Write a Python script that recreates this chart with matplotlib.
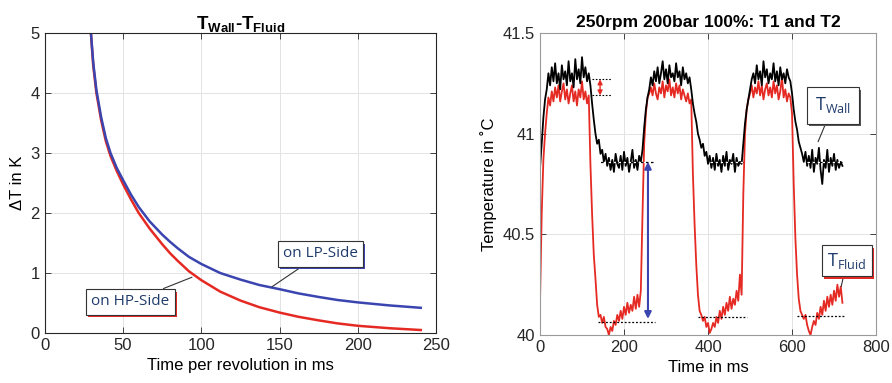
import numpy as np
import matplotlib
matplotlib.use("Agg")
import matplotlib.pyplot as plt
import matplotlib.patheffects as pe

plt.rcParams['font.family'] = ['Liberation Sans', 'DejaVu Sans']
plt.rcParams['mathtext.default'] = 'regular'

# --- left panel: Delta T vs time per revolution ---
t_rev = [29.5, 31, 33, 36, 39, 42, 46, 50, 55, 60, 67, 75, 80, 85, 92, 100,
         112, 125, 137, 150, 162, 175, 187, 200, 220, 240]
dT_lp = [5.0, 4.5, 4.05, 3.6, 3.25, 3.0, 2.75, 2.55, 2.31, 2.1, 1.86, 1.64,
         1.52, 1.41, 1.27, 1.15, 1.0, 0.89, 0.8, 0.73, 0.66, 0.6, 0.55,
         0.51, 0.46, 0.42]
dT_hp = [5.0, 4.45, 4.0, 3.55, 3.2, 2.95, 2.7, 2.48, 2.23, 2.0, 1.74, 1.48,
         1.33, 1.2, 1.03, 0.88, 0.69, 0.54, 0.43, 0.34, 0.27, 0.21, 0.16,
         0.12, 0.08, 0.05]

# --- right panel: measured temperatures, sampled every 4 ms ---
t_ms = np.arange(0, 724, 4)
T_fluid = [
    40.17, 40.6, 40.87, 41.0, 41.1, 41.18, 41.14, 41.21, 41.16, 41.23,
    41.18, 41.24, 41.16, 41.21, 41.25, 41.17, 41.22, 41.15, 41.2, 41.24,
    41.16, 41.21, 41.14, 41.22, 41.18, 41.26, 41.17, 41.21, 41.15, 41.19,
    40.85, 40.6, 40.4, 40.28, 40.15, 40.09, 40.1, 40.06, 40.09, 40.04,
    40.03, 40.0, 40.04, 40.02, 40.07, 40.05, 40.1, 40.07, 40.12, 40.08,
    40.14, 40.1, 40.16, 40.11, 40.15, 40.12, 40.19, 40.13, 40.2, 40.14,
    40.22, 40.6, 40.95, 41.1, 41.18, 41.2, 41.23, 41.19, 41.25, 41.2,
    41.17, 41.23, 41.2, 41.26, 41.18, 41.24, 41.21, 41.27, 41.19, 41.23,
    41.18, 41.25, 41.2, 41.24, 41.17, 41.22, 41.19, 41.16, 41.2, 41.15,
    41.17, 40.8, 40.55, 40.35, 40.2, 40.12, 40.1, 40.07, 40.09, 40.04,
    40.06, 40.01, 40.03, 40.06, 40.04, 40.09, 40.06, 40.12, 40.08, 40.14,
    40.1, 40.16, 40.12, 40.19, 40.13, 40.18, 40.15, 40.22, 40.17, 40.3,
    40.2, 40.7, 41.0, 41.12, 41.17, 41.2, 41.24, 41.18, 41.23, 41.2,
    41.26, 41.19, 41.24, 41.17, 41.22, 41.25, 41.19, 41.23, 41.18, 41.26,
    41.2, 41.24, 41.17, 41.21, 41.28, 41.18, 41.22, 41.16, 41.2, 41.18,
    41.1, 40.75, 40.48, 40.3, 40.18, 40.12, 40.1, 40.08, 40.1, 40.05,
    40.02, 40.0, 40.04, 40.07, 40.05, 40.11, 40.08, 40.14, 40.1, 40.17,
    40.12, 40.19, 40.14, 40.2, 40.15, 40.22, 40.17, 40.25, 40.19, 40.24,
    40.16]
T_wall = [
    40.83, 40.95, 41.08, 41.17, 41.22, 41.3, 41.24, 41.33, 41.26, 41.35,
    41.25, 41.3, 41.22, 41.34, 41.27, 41.31, 41.24, 41.36, 41.26, 41.3,
    41.23, 41.37, 41.27, 41.32, 41.25, 41.38, 41.28, 41.33, 41.26, 41.3,
    41.24, 41.15, 41.07, 41.0, 40.95, 40.97, 40.9, 40.92, 40.86, 40.9,
    40.84, 40.88, 40.82, 40.87, 40.81, 40.9, 40.85, 40.83, 40.89, 40.82,
    40.91, 40.84, 40.88, 40.81, 40.86, 40.92, 40.83, 40.87, 40.82, 40.89,
    40.86, 40.92, 41.03, 41.12, 41.18, 41.22, 41.28, 41.24, 41.31, 41.26,
    41.33, 41.25, 41.3, 41.36, 41.27, 41.32, 41.25, 41.34, 41.28, 41.3,
    41.26, 41.35, 41.28, 41.31, 41.24, 41.33, 41.27, 41.3, 41.25, 41.28,
    41.22, 41.15, 41.1, 41.06, 41.0, 40.97, 40.93, 40.95, 40.89, 40.91,
    40.85, 40.89, 40.83, 40.88, 40.82, 40.9, 40.84, 40.87, 40.81, 40.89,
    40.84, 40.91, 40.82, 40.87, 40.85, 40.9, 40.81, 40.88, 40.84, 40.86,
    40.85, 40.95, 41.05, 41.12, 41.17, 41.22, 41.27, 41.3, 41.25, 41.34,
    41.27, 41.31, 41.24, 41.36, 41.28, 41.32, 41.25, 41.3, 41.27, 41.35,
    41.26, 41.31, 41.24, 41.33, 41.27, 41.3, 41.25, 41.32, 41.28, 41.26,
    41.2, 41.12, 41.06, 41.02, 40.96, 40.93, 40.9, 40.86, 40.91, 40.84,
    40.89, 40.83, 40.92, 40.81, 40.88, 40.85, 40.93, 40.82, 40.75, 40.87,
    40.83, 40.92, 40.81, 40.88, 40.84, 40.9, 40.82, 40.87, 40.83, 40.86,
    40.84]

# reference levels (dotted lines) and markers
wall_low = 40.86
fluid_low = [40.065, 40.09, 40.095]
low_spans = [(138, 274), (376, 492), (612, 726)]
wall_spans = [(138, 274), (405, 483), (636, 719)]
peak_levels = (41.19, 41.27)
peak_span = (124, 171)

RED = '#e52a23'
BLUE = '#3b45b0'
NAVY = '#1f3b6b'
EDGE = '#333333'

fig = plt.figure(figsize=(8.92, 3.83), dpi=100)
ax1 = fig.add_axes([0.0501, 0.1305, 0.4392, 0.7833])
ax2 = fig.add_axes([0.6054, 0.1253, 0.3767, 0.7885])


def style(ax, spine_col):
    ax.tick_params(direction='in', top=True, right=True, labelsize=12,
                   length=4, width=0.6, colors='#262626')
    for s in ax.spines.values():
        s.set_color(spine_col)
        s.set_linewidth(0.8)
    ax.grid(True, color='#e3e3e3', lw=0.7)
    ax.set_axisbelow(True)


def label_box(ax, text, xy, xytext, shadow, fs, pad):
    ann = ax.annotate(text, xy=xy, xytext=xytext, ha='center', va='center',
                      fontsize=fs, family='Open Sans', color=NAVY, zorder=8,
                      bbox=dict(boxstyle=f'square,pad={pad}', fc='white', ec=EDGE, lw=0.8),
                      arrowprops=dict(arrowstyle='-', color=EDGE, lw=0.8,
                                      shrinkA=0, shrinkB=0))
    ann.get_bbox_patch().set_path_effects([
        pe.SimplePatchShadow(offset=(1.5, -2), shadow_rgbFace=shadow, alpha=1.0),
        pe.Normal()])
    return ann


# left panel
style(ax1, '#262626')
ax1.plot(t_rev, dT_hp, color=RED, lw=1.8)
ax1.plot(t_rev, dT_lp, color=BLUE, lw=1.8)
ax1.set_xlim(0, 250)
ax1.set_ylim(0, 5)
ax1.set_xticks(range(0, 251, 50))
ax1.set_yticks(range(0, 6))
ax1.set_xlabel('Time per revolution in ms', fontsize=12)
ax1.set_ylabel('ΔT in K', fontsize=12)
ax1.set_title('T$_{Wall}$-T$_{Fluid}$', fontsize=13.5, fontweight='bold', pad=3)
label_box(ax1, 'on LP-Side', (145, 0.77), (176, 1.32), BLUE, 11, 0.35)
label_box(ax1, 'on HP-Side', (94, 0.93), (54.5, 0.52), RED, 11, 0.35)

# right panel
style(ax2, '#9a9a9a')
ax2.plot(t_ms, T_fluid, color=RED, lw=1.3)
ax2.plot(t_ms, T_wall, color='black', lw=1.3)
for (a, b) in wall_spans:
    ax2.plot([a, b], [wall_low, wall_low], color='white', lw=0.9, ls=(0, (2, 2)), zorder=4)
    ax2.plot([a, b], [wall_low, wall_low], color='black', lw=0.9, ls=(2, (2, 2)), zorder=4)
for (a, b), lev in zip(low_spans, fluid_low):
    ax2.plot([a, b], [lev, lev], color='black', lw=0.9, ls=(0, (1.5, 1.5)), zorder=4)
for lev in peak_levels:
    ax2.plot(peak_span, [lev, lev], color='black', lw=0.8, ls=(0, (1.5, 1.5)), zorder=4)
ax2.annotate('', xy=(143, peak_levels[0]), xytext=(143, peak_levels[1]),
             arrowprops=dict(arrowstyle='<|-|>', color=RED, lw=1.0,
                             mutation_scale=7, shrinkA=0, shrinkB=0), zorder=5)
ax2.annotate('', xy=(257, 40.08), xytext=(257, wall_low),
             arrowprops=dict(arrowstyle='<|-|>', color=BLUE, lw=1.5,
                             mutation_scale=10, shrinkA=0, shrinkB=0), zorder=5)
ax2.set_xlim(0, 800)
ax2.set_ylim(40, 41.5)
ax2.set_xticks(range(0, 801, 200))
ax2.set_yticks([40, 40.5, 41, 41.5])
ax2.set_yticklabels(['40', '40.5', '41', '41.5'])
ax2.set_xlabel('Time in ms', fontsize=12)
ax2.set_ylabel('Temperature in ˚C', fontsize=12)
ax2.set_title('250rpm 200bar 100%: T1 and T2', fontsize=12.5, fontweight='bold', pad=4)
label_box(ax2, 'T$_{Wall}$', (662, 40.96), (698, 41.14), '#555555', 13, 0.45)
label_box(ax2, 'T$_{Fluid}$', (717, 40.24), (731, 40.37), RED, 13, 0.3)

fig.savefig('out.png', dpi=100)
